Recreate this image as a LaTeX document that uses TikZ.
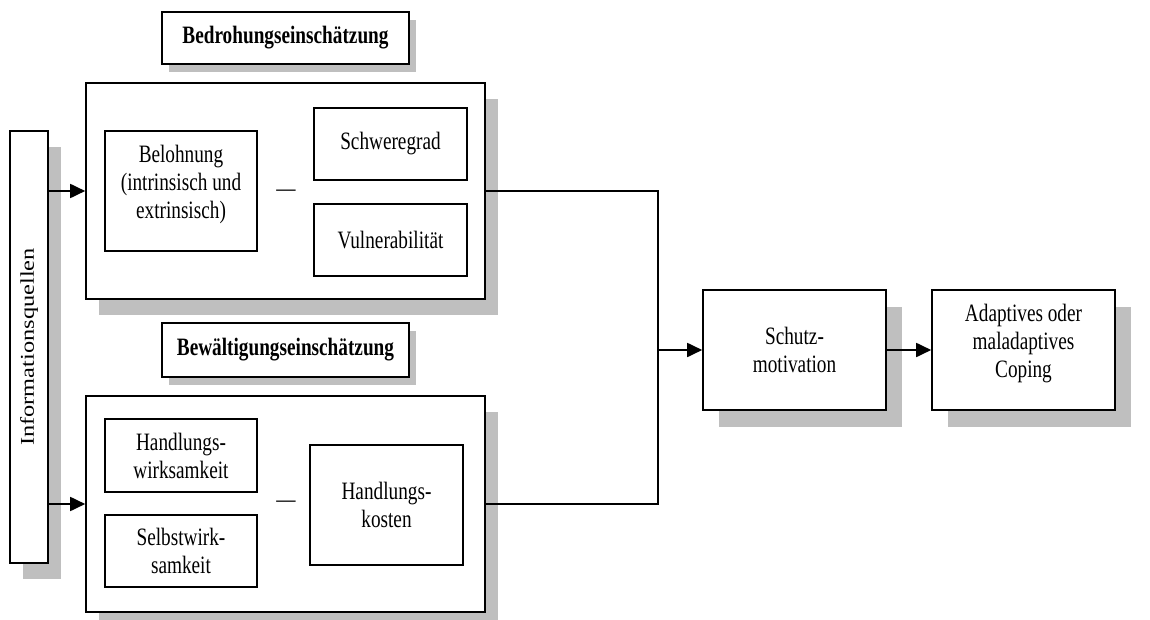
\documentclass[tikz,border=0pt]{standalone}
\usepackage{fontspec}
\usepackage{graphicx}
\setmainfont{Liberation Serif}
\newfontfamily\nfont{Liberation Serif}[FakeStretch=0.77]
\usetikzlibrary{arrows.meta,shadows}
\tikzset{
  box/.style={draw, line width=1.6pt, fill=white, inner sep=0pt, align=center,
    font=\nfont\fontsize{25}{28}\selectfont},
  lbox/.style={box, font=\nfont\bfseries\fontsize{25}{28}\selectfont},
  shbig/.style={drop shadow={shadow xshift=13pt, shadow yshift=-16pt, fill=black!25, opacity=1}},
  shmid/.style={drop shadow={shadow xshift=16pt, shadow yshift=-17pt, fill=black!25, opacity=1}},
  shsmall/.style={drop shadow={shadow xshift=7pt, shadow yshift=-8pt, fill=black!25, opacity=1}},
  minus/.style={inner sep=0pt, font=\nfont\fontsize{25}{28}\selectfont},
  arr/.style={line width=1.8pt, -{Triangle[length=15pt,width=14pt]}},
  ln/.style={line width=1.3pt},
}
\begin{document}
\begin{tikzpicture}[x=1pt,y=-1pt]
\useasboundingbox (0,0) rectangle (1150,620);
% labels
\node[lbox,shsmall,minimum width=247pt,minimum height=52pt] (bedl) at (285.5,38) {Bedrohungseinschätzung};
\node[lbox,shsmall,minimum width=247pt,minimum height=54pt] (bewl) at (285.5,350) {Bewältigungseinschätzung};
% outer boxes
\node[box,shbig,minimum width=399pt,minimum height=216pt] (threat) at (285.5,191) {};
\node[box,shbig,minimum width=399pt,minimum height=216pt] (coping) at (285.5,504) {};
% info
\node[box,shbig,minimum width=38pt,minimum height=432pt] (info) at (29,347)
  {\rotatebox{90}{\scalebox{1.25}[1]{\rmfamily\fontsize{19.5}{22}\selectfont Informationsquellen}}};
% inner threat
\node[box,text depth=18pt,minimum width=152pt,minimum height=120pt] (belohn) at (181,191) {Belohnung\\(intrinsisch und\\extrinsisch)};
\node[box,minimum width=153pt,minimum height=72pt] (schwere) at (390.5,144) {Schweregrad};
\node[box,minimum width=153pt,minimum height=72pt] (vuln) at (390.5,240) {Vulnerabilität};
\node[minus] (m1) at (286,193) {—};
% inner coping
\node[box,minimum width=152pt,minimum height=73pt] (hw) at (181,455.5) {Handlungs-\\wirksamkeit};
\node[box,minimum width=152pt,minimum height=72pt] (sw) at (181,551) {Selbstwirk-\\samkeit};
\node[box,minimum width=153pt,minimum height=120pt] (hk) at (386.5,505) {Handlungs-\\kosten};
\node[minus] (m2) at (286,504) {—};
% right
\node[box,shmid,minimum width=183pt,minimum height=120pt] (schutz) at (794.5,350) {Schutz-\\motivation};
\node[box,shmid,text depth=18pt,minimum width=183pt,minimum height=120pt] (cope) at (1023.5,350) {Adaptives oder\\maladaptives\\Coping};
% connectors
\coordinate (jt) at (658,191);
\coordinate (jb) at (658,504);
\coordinate (jm) at (658,350);
\draw[arr] (info.east |- threat.west) -- (threat.west);
\draw[arr] (info.east |- coping.west) -- (coping.west);
\draw[ln] (threat.east) -- (jt) -- (jb) -- (coping.east);
\draw[arr] (jm) -- (schutz.west);
\draw[arr] (schutz.east) -- (cope.west);
\end{tikzpicture}
\end{document}
